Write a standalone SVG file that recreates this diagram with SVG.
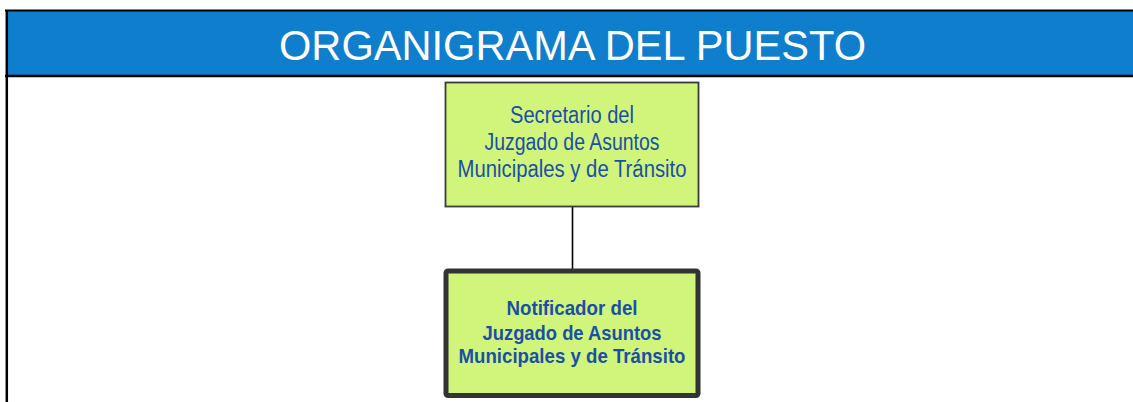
<svg xmlns="http://www.w3.org/2000/svg" width="1133" height="402" viewBox="0 0 1133 402">
<style>
.title{font-family:"Liberation Sans",Arial,sans-serif;font-size:43px;fill:#ffffff}
.t{font-family:"Liberation Sans",Arial,sans-serif;font-size:23px;fill:#1a4fa8;text-anchor:middle}
.tb{font-family:"Liberation Sans",Arial,sans-serif;font-size:21px;font-weight:bold;fill:#1a4fa8;text-anchor:middle}
.box{fill:#d0f57a}
</style>
<rect width="1133" height="402" fill="#ffffff"/>
<g id="header">
<rect x="6" y="11" width="1127" height="64" fill="#0f7ecc"/>
<line x1="5" y1="10.5" x2="1133" y2="10.5" stroke="#000" stroke-width="2"/>
<line x1="5" y1="76" x2="1133" y2="76" stroke="#000" stroke-width="2.5"/>
<line x1="6.8" y1="10" x2="6.8" y2="402" stroke="#000" stroke-width="2.5"/>
<text class="title" x="279" y="59.5" textLength="587" lengthAdjust="spacingAndGlyphs">ORGANIGRAMA DEL PUESTO</text>
</g>
<g id="connectors">
<line x1="572.5" y1="207" x2="572.5" y2="269" stroke="#000" stroke-width="1.6"/>
</g>
<g id="node-secretario">
<rect class="box" x="445.5" y="82.5" width="253" height="124" stroke="#3a3a3a" stroke-width="1.8"/>
<text class="t" x="572" y="123" textLength="124" lengthAdjust="spacingAndGlyphs">Secretario del</text>
<text class="t" x="572" y="150" textLength="175" lengthAdjust="spacingAndGlyphs">Juzgado de Asuntos</text>
<text class="t" x="572" y="177" textLength="229" lengthAdjust="spacingAndGlyphs">Municipales y de Tránsito</text>
</g>
<g id="node-notificador">
<rect class="box" x="446" y="271" width="252" height="124.5" rx="2" stroke="#333333" stroke-width="5"/>
<text class="tb" x="572" y="315" textLength="131" lengthAdjust="spacingAndGlyphs">Notificador del</text>
<text class="tb" x="572" y="340" textLength="179" lengthAdjust="spacingAndGlyphs">Juzgado de Asuntos</text>
<text class="tb" x="572" y="363" textLength="227" lengthAdjust="spacingAndGlyphs">Municipales y de Tránsito</text>
</g>
</svg>
